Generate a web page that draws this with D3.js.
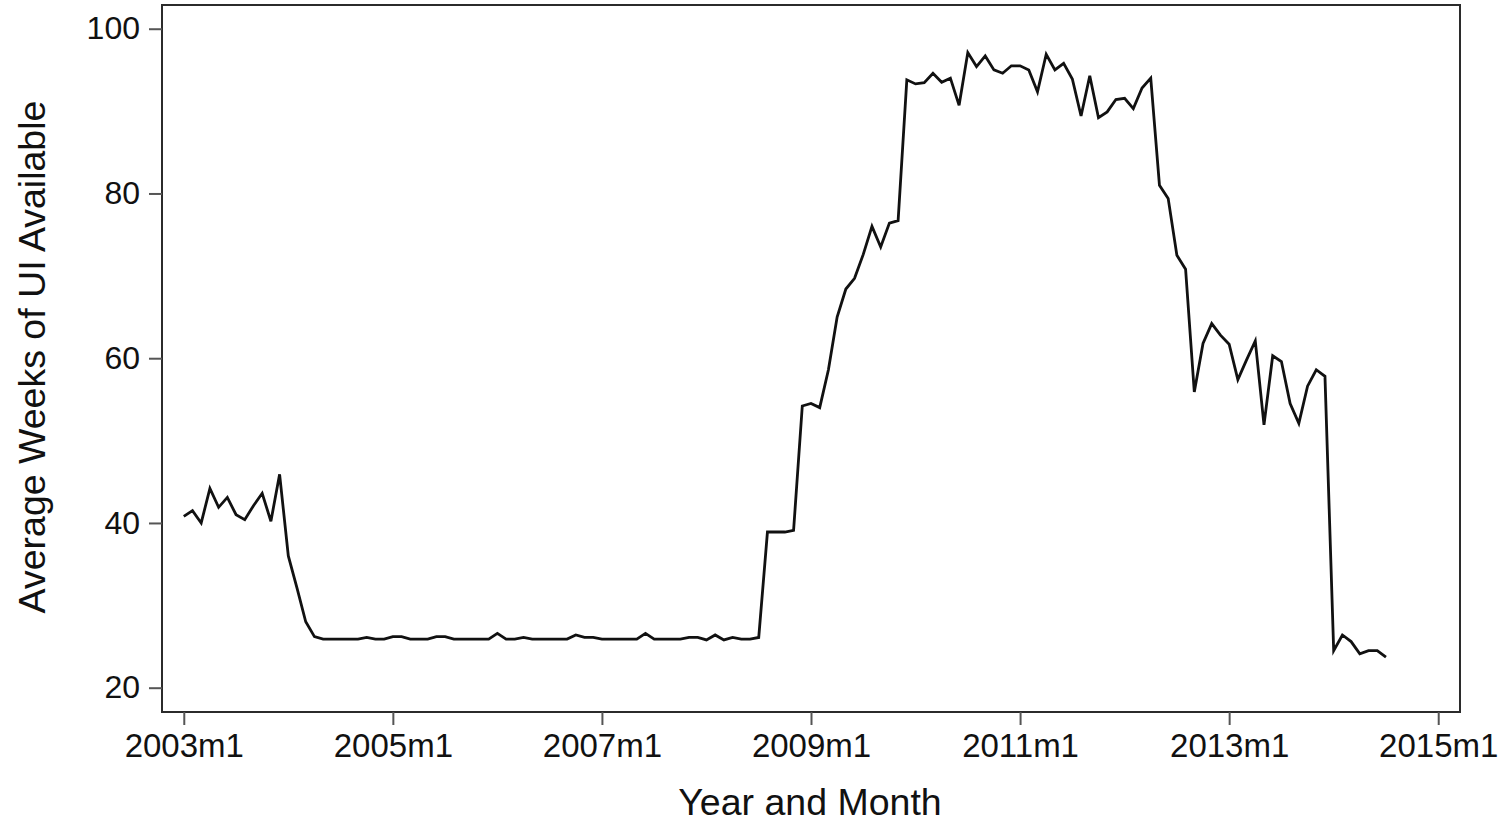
<!DOCTYPE html>
<html>
<head>
<meta charset="utf-8">
<script src="https://cdn.jsdelivr.net/npm/d3@7"></script>
<style>
  html, body { margin: 0; padding: 0; background: #fff; }
  svg text { font-family: "Liberation Sans", Arial, Helvetica, sans-serif; fill: #111; }
</style>
</head>
<body>
<svg id="chart" width="1505" height="823"></svg>
<script>
// Monthly average weeks of UI available, starting 2003m1
const startYear = 2003;
const weeks2003 = [40.8, 41.5, 40.0, 44.2, 41.9, 43.1, 41.0, 40.4, 42.1, 43.6, 40.2, 45.9];
const weeks2004 = [36.0, 32.1, 28.0, 26.2, 25.9, 25.9, 25.9, 25.9, 25.9, 26.1, 25.9, 25.9];
const weeks2005 = [26.2, 26.2, 25.9, 25.9, 25.9, 26.2, 26.2, 25.9, 25.9, 25.9, 25.9, 25.9];
const weeks2006 = [26.6, 25.9, 25.9, 26.1, 25.9, 25.9, 25.9, 25.9, 25.9, 26.4, 26.1, 26.1];
const weeks2007 = [25.9, 25.9, 25.9, 25.9, 25.9, 26.6, 25.9, 25.9, 25.9, 25.9, 26.1, 26.1];
const weeks2008 = [25.8, 26.4, 25.8, 26.1, 25.9, 25.9, 26.1, 38.9, 38.9, 38.9, 39.1, 54.2];
const weeks2009 = [54.5, 54.0, 58.6, 65.0, 68.4, 69.7, 72.6, 76.0, 73.5, 76.4, 76.7, 93.8];
const weeks2010 = [93.3, 93.45, 94.6, 93.5, 94.0, 90.7, 97.1, 95.4, 96.7, 95.0, 94.6, 95.5];
const weeks2011 = [95.5, 95.0, 92.35, 96.9, 95.0, 95.8, 93.9, 89.4, 94.3, 89.2, 89.9, 91.4];
const weeks2012 = [91.55, 90.3, 92.8, 94.0, 81.0, 79.4, 72.5, 70.8, 55.9, 61.8, 64.2, 62.8];
const weeks2013 = [61.7, 57.4, 59.8, 62.1, 51.9, 60.3, 59.6, 54.5, 52.1, 56.6, 58.6, 57.8];
const weeks2014 = [24.5, 26.4, 25.6, 24.1, 24.5, 24.5, 23.7];

const yTicks = [20, 40, 60, 80, 100];
const xTickMonths = [0, 24, 48, 72, 96, 120, 144];
const xTickLabels = ["2003m1", "2005m1", "2007m1", "2009m1", "2011m1", "2013m1", "2015m1"];

const weeks = [].concat(weeks2003, weeks2004, weeks2005, weeks2006, weeks2007,
                        weeks2008, weeks2009, weeks2010, weeks2011, weeks2012,
                        weeks2013, weeks2014);
const series = weeks.map((v, i) => ({ month: i, value: v }));

const svg = d3.select("#chart");
const plot = { left: 162, right: 1460, top: 5, bottom: 712 };

const x = d3.scaleLinear().domain([-2.5, 146.5]).range([plot.left, plot.right]);
const y = d3.scaleLinear().domain([17.05, 102.88]).range([plot.bottom, plot.top]);

// plot frame
svg.append("rect")
  .attr("x", plot.left).attr("y", plot.top)
  .attr("width", plot.right - plot.left).attr("height", plot.bottom - plot.top)
  .attr("fill", "none").attr("stroke", "#2b2b2b").attr("stroke-width", 2);

// y axis
const yAxis = svg.append("g")
  .attr("transform", `translate(${plot.left},0)`)
  .call(d3.axisLeft(y).tickValues(yTicks).tickSize(13).tickPadding(9));
yAxis.select(".domain").remove();
yAxis.selectAll(".tick line").attr("stroke", "#555").attr("stroke-width", 2);
yAxis.selectAll(".tick text").attr("font-size", 32).attr("fill", "#111")
  .attr("font-family", "'Liberation Sans', Arial, sans-serif");

// x axis
const xAxis = svg.append("g")
  .attr("transform", `translate(0,${plot.bottom})`)
  .call(d3.axisBottom(x).tickValues(xTickMonths)
    .tickFormat((d, i) => xTickLabels[i]).tickSize(13).tickPadding(9));
xAxis.select(".domain").remove();
xAxis.selectAll(".tick line").attr("stroke", "#555").attr("stroke-width", 2);
xAxis.selectAll(".tick text").attr("font-size", 33).attr("fill", "#111")
  .attr("font-family", "'Liberation Sans', Arial, sans-serif");

// line
const line = d3.line().x(d => x(d.month)).y(d => y(d.value));
svg.append("path")
  .datum(series)
  .attr("d", line)
  .attr("fill", "none")
  .attr("stroke", "#111")
  .attr("stroke-width", 2.8)
  .attr("stroke-linejoin", "miter");

// axis titles
svg.append("text")
  .attr("x", 810)
  .attr("y", 815)
  .attr("text-anchor", "middle")
  .attr("font-size", 37.5)
  .text("Year and Month");

svg.append("text")
  .attr("transform", `translate(45,357) rotate(-90)`)
  .attr("text-anchor", "middle")
  .attr("font-size", 37.5)
  .text("Average Weeks of UI Available");
</script>
</body>
</html>
